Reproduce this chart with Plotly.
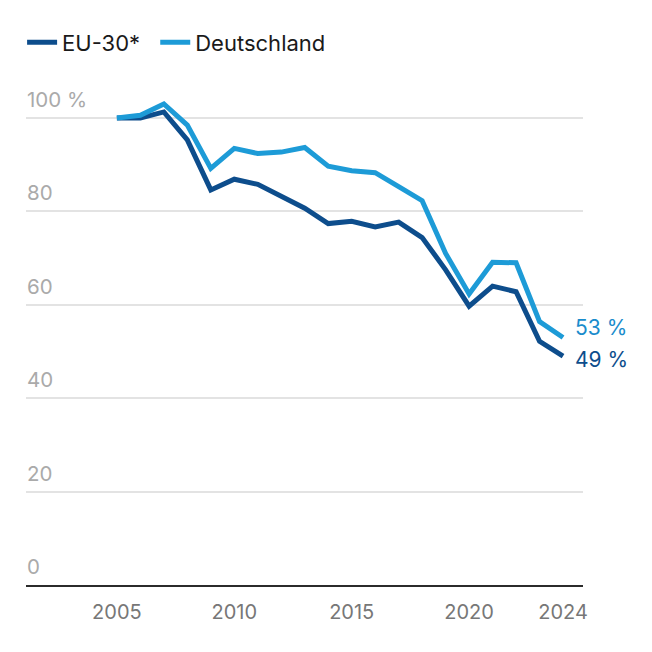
import plotly.graph_objects as go

years = list(range(2005, 2025))
eu30 = [100, 100, 101.3, 95.3, 84.6, 86.9, 85.8, 83.3, 80.7, 77.4,
        77.9, 76.7, 77.7, 74.4, 67.5, 59.7, 64.0, 62.8, 52.2, 49.0]
deutschland = [100, 100.6, 103.0, 98.5, 89.2, 93.5, 92.4, 92.7, 93.7, 89.7,
               88.7, 88.3, 85.3, 82.3, 71.0, 62.3, 69.1, 69.0, 56.4, 53.0]
x_ticks = [2005, 2010, 2015, 2020, 2024]
y_ticks = [0, 20, 40, 60, 80, 100]
y_ticktext = ["0", "20", "40", "60", "80", "100 %"]
end_labels = ["49 %", "53 %"]

C_EU = "#0d4d8c"
C_DE = "#1d9bd7"
FONT = "Inter"

fig = go.Figure()
fig.add_trace(go.Scatter(x=years, y=eu30, mode="lines", name="EU-30*\u00a0\u2009",
                         line=dict(color=C_EU, width=5)))
fig.add_trace(go.Scatter(x=years, y=deutschland, mode="lines", name="Deutschland",
                         line=dict(color=C_DE, width=5)))

fig.add_annotation(x=years[-1], y=eu30[-1], text=end_labels[0], showarrow=False,
                   xanchor="left", yanchor="middle", xshift=10, yshift=-3,
                   font=dict(family=FONT, size=21, color=C_EU))
fig.add_annotation(x=years[-1], y=deutschland[-1], text=end_labels[1], showarrow=False,
                   xanchor="left", yanchor="middle", xshift=10, yshift=10,
                   font=dict(family=FONT, size=21, color="#1a8ccc"))

# y-axis labels sit left-aligned just above each gridline
for v, t in zip(y_ticks, y_ticktext):
    fig.add_annotation(x=0, xref="paper", y=v, yref="y", text=t, showarrow=False,
                       xanchor="left", yanchor="bottom", xshift=-1, yshift=4,
                       font=dict(family=FONT, size=20.5, color="#aaaaaa"))

fig.update_layout(
    width=652, height=652,
    margin=dict(l=18, r=77, t=82, b=75),
    paper_bgcolor="white", plot_bgcolor="white",
    font=dict(family=FONT),
    showlegend=True,
    legend=dict(orientation="h", x=-0.007, y=0.915, xanchor="left", yanchor="bottom",
                yref="container", font=dict(family=FONT, size=22, color="#1a1a1a"),
                itemwidth=30, traceorder="normal"),
    xaxis=dict(range=[2001.13, 2024.85], tickvals=x_ticks, ticktext=[str(v) for v in x_ticks],
               showgrid=False, zeroline=False, showline=True, linecolor="#2b2b2b", linewidth=2,
               ticks="", ticklabelstandoff=8,
               tickfont=dict(family=FONT, size=20, color="#777777")),
    yaxis=dict(range=[0, 106], tickvals=y_ticks, showticklabels=False,
               showgrid=True, gridcolor="#e3e3e3", gridwidth=1.5, zeroline=False,
               showline=False, ticks=""),
)

fig.write_html("out.html")
